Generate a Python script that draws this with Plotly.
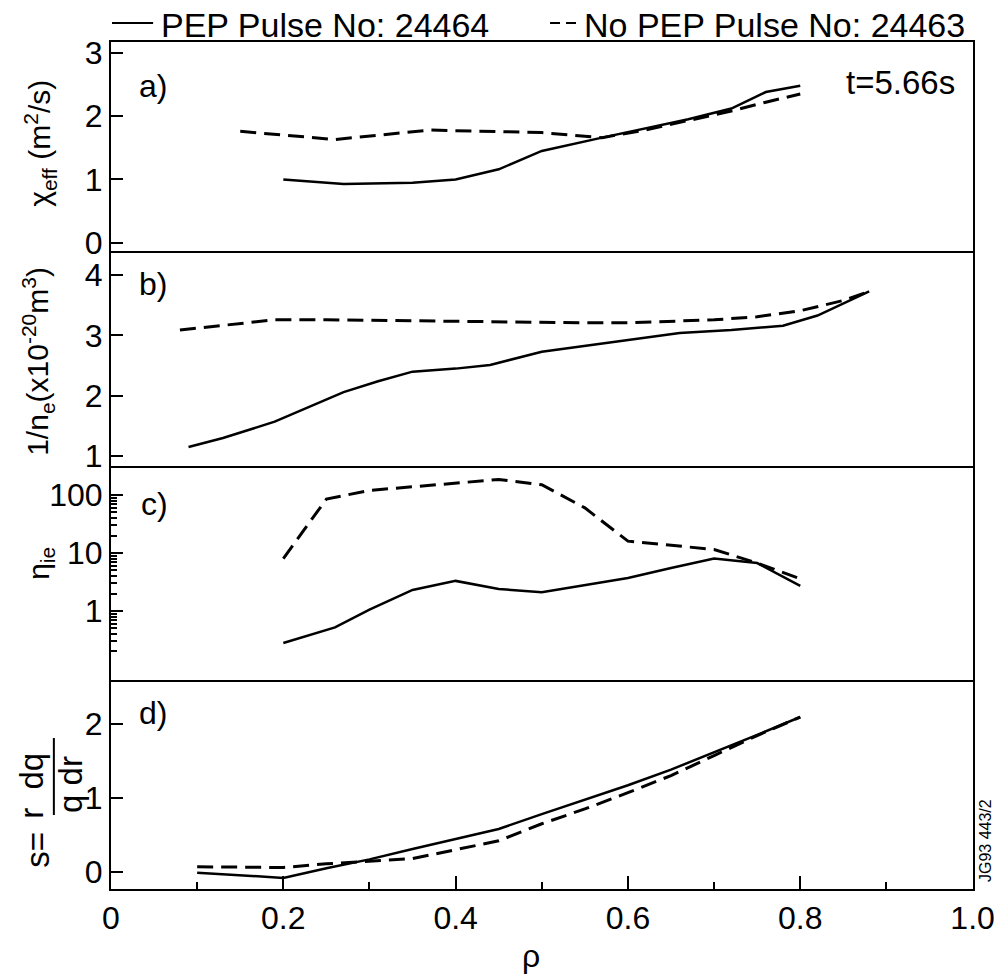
import plotly.graph_objects as go
from plotly.subplots import make_subplots

# ---------------- data ----------------
# panel a) chi_eff (m^2/s)
a_pep_x = [0.20, 0.27, 0.35, 0.40, 0.45, 0.50, 0.57, 0.67, 0.72, 0.76, 0.80]
a_pep_y = [1.00, 0.93, 0.95, 1.00, 1.16, 1.45, 1.66, 1.95, 2.12, 2.38, 2.48]
a_nopep_x = [0.15, 0.26, 0.37, 0.40, 0.45, 0.50, 0.57, 0.62, 0.67, 0.72, 0.76, 0.80]
a_nopep_y = [1.76, 1.63, 1.78, 1.77, 1.75, 1.74, 1.66, 1.78, 1.93, 2.08, 2.22, 2.35]

# panel b) 1/n_e (x10^-20 m^3)
b_pep_x = [0.09, 0.13, 0.19, 0.27, 0.31, 0.35, 0.40, 0.44, 0.50, 0.60, 0.66, 0.72, 0.78, 0.82, 0.88]
b_pep_y = [1.15, 1.30, 1.57, 2.06, 2.24, 2.40, 2.45, 2.51, 2.73, 2.92, 3.04, 3.09, 3.16, 3.33, 3.73]
b_nopep_x = [0.08, 0.13, 0.19, 0.25, 0.35, 0.45, 0.55, 0.60, 0.70, 0.75, 0.80, 0.85, 0.88]
b_nopep_y = [3.09, 3.17, 3.26, 3.26, 3.24, 3.22, 3.21, 3.21, 3.26, 3.31, 3.41, 3.58, 3.73]

# panel c) eta_ie (log)
c_pep_x = [0.20, 0.26, 0.30, 0.35, 0.40, 0.45, 0.50, 0.55, 0.60, 0.65, 0.70, 0.75, 0.80]
c_pep_y = [0.28, 0.52, 1.05, 2.3, 3.3, 2.4, 2.1, 2.8, 3.7, 5.5, 8.0, 6.7, 2.7]
c_nopep_x = [0.20, 0.25, 0.30, 0.35, 0.40, 0.45, 0.50, 0.55, 0.60, 0.65, 0.70, 0.75, 0.80]
c_nopep_y = [8, 85, 120, 140, 160, 185, 150, 60, 16, 13.5, 11.5, 6.7, 3.6]

# panel d) shear s
d_pep_x = [0.10, 0.20, 0.25, 0.30, 0.35, 0.40, 0.45, 0.50, 0.55, 0.60, 0.65, 0.70, 0.75, 0.80]
d_pep_y = [-0.01, -0.08, 0.05, 0.17, 0.31, 0.45, 0.58, 0.78, 0.97, 1.17, 1.38, 1.61, 1.85, 2.09]
d_nopep_x = [0.10, 0.20, 0.25, 0.30, 0.35, 0.40, 0.45, 0.50, 0.55, 0.60, 0.65, 0.70, 0.75, 0.80]
d_nopep_y = [0.07, 0.06, 0.11, 0.15, 0.18, 0.30, 0.42, 0.65, 0.85, 1.07, 1.30, 1.57, 1.84, 2.09]

x_ticks = [0, 0.2, 0.4, 0.6, 0.8, 1.0]
x_ticklabels = ["0", "0.2", "0.4", "0.6", "0.8", "1.0"]
a_ticks = [0, 1, 2, 3]
b_ticks = [1, 2, 3, 4]
c_ticks = [1, 10, 100]
c_ticklabels = ["1", "10", "100"]
c_minor = [0.2, 0.3, 0.4, 0.5, 0.6, 0.7, 0.8, 0.9,
           2, 3, 4, 5, 6, 7, 8, 9,
           20, 30, 40, 50, 60, 70, 80, 90]
d_ticks = [0, 1, 2]

pep_name = "PEP Pulse No: 24464"
nopep_name = "No PEP Pulse No: 24463"

# ---------------- figure ----------------
FONT = "Liberation Sans, Arial, Helvetica, sans-serif"
fig = make_subplots(rows=4, cols=1, shared_xaxes=True, vertical_spacing=0)

panels = [
    (a_pep_x, a_pep_y, a_nopep_x, a_nopep_y),
    (b_pep_x, b_pep_y, b_nopep_x, b_nopep_y),
    (c_pep_x, c_pep_y, c_nopep_x, c_nopep_y),
    (d_pep_x, d_pep_y, d_nopep_x, d_nopep_y),
]
for i, (px, py, nx, ny) in enumerate(panels, start=1):
    fig.add_trace(go.Scatter(x=px, y=py, mode="lines", name=pep_name,
                             line=dict(color="black", width=2.5),
                             showlegend=False), row=i, col=1)
    fig.add_trace(go.Scatter(x=nx, y=ny, mode="lines", name=nopep_name,
                             line=dict(color="black", width=3, dash="16px,8px"),
                             showlegend=False), row=i, col=1)

domains = [[0.7532, 1.0], [0.4994, 0.7532], [0.2468, 0.4994], [0.0, 0.2468]]
yranges = [[-0.13, 3.17], [0.835, 4.40], [-1.19, 2.5], [-0.23, 2.59]]
ytickvals = [a_ticks, b_ticks, c_ticks, d_ticks]
yticktext = [[str(v) for v in a_ticks], [str(v) for v in b_ticks], c_ticklabels,
             [str(v) for v in d_ticks]]

for i in range(4):
    yk = "yaxis" if i == 0 else f"yaxis{i+1}"
    ydict = dict(showline=True, mirror=True, linecolor="black", linewidth=2,
                 showgrid=False, zeroline=False, automargin=False,
                 domain=domains[i], range=yranges[i],
                 tickmode="array", tickvals=ytickvals[i], ticktext=yticktext[i],
                 ticks="inside", ticklen=12, tickwidth=2, tickcolor="black",
                 tickfont=dict(family=FONT, size=32, color="black"))
    if i == 2:
        ydict["type"] = "log"
        ydict["minor"] = dict(tickmode="array", tickvals=c_minor, ticks="inside",
                              ticklen=6, tickwidth=1.5, tickcolor="black")
    fig.layout[yk].update(ydict)

    xk = "xaxis" if i == 0 else f"xaxis{i+1}"
    xdict = dict(showline=True, mirror=(i == 0), linecolor="black", linewidth=2,
                 showgrid=False, zeroline=False, automargin=False,
                 range=[0, 1.0005])
    if i == 3:
        xdict.update(tickmode="array", tickvals=x_ticks, ticktext=x_ticklabels,
                     ticks="inside", ticklen=13, tickwidth=2, tickcolor="black",
                     showticklabels=True, ticklabeloverflow="allow",
                     tickfont=dict(family=FONT, size=32, color="black"),
                     minor=dict(tickmode="linear", tick0=0, dtick=0.1, ticks="inside",
                                ticklen=7, tickwidth=2, tickcolor="black"))
    else:
        xdict.update(ticks="", showticklabels=False)
    fig.layout[xk].update(xdict)

def ann(text, x, y, size=32, xanchor="center", yanchor="middle", angle=0):
    fig.add_annotation(text=text, x=x, y=y, xref="paper", yref="paper",
                       xanchor=xanchor, yanchor=yanchor, showarrow=False,
                       textangle=angle,
                       font=dict(family=FONT, size=size, color="black"))

# pixel -> paper helpers (plot area: x 111..971, y 42..889)
def PX(px):
    return (px - 111) / 860.0
def PY(py):
    return (889 - py) / 847.0

# panel labels
ann("a)", PX(137), PY(86), xanchor="left")
ann("b)", PX(137), PY(284), xanchor="left")
ann("c)", PX(139), PY(504), xanchor="left")
ann("d)", PX(137), PY(713), xanchor="left")
ann("t=5.66s", PX(955), PY(83), size=33, xanchor="right")

# legend (top)
fig.add_shape(type="line", xref="paper", yref="paper",
              x0=PX(112), x1=PX(153), y0=PY(23), y1=PY(23),
              line=dict(color="black", width=2))
ann(pep_name, PX(159), PY(25), size=34, xanchor="left")
fig.add_shape(type="line", xref="paper", yref="paper",
              x0=PX(549), x1=PX(575), y0=PY(23), y1=PY(23),
              line=dict(color="black", width=2, dash="10px,6px"))
ann(nopep_name, PX(581), PY(25), size=34, xanchor="left")

# y-axis titles
ann("χ<sub>eff</sub> (m<sup>2</sup>/s)", PX(40), PY(143), size=30, angle=-90)
ann("1/n<sub>e</sub>(x10<sup>-20</sup>m<sup>3</sup>)", PX(38), PY(361), size=30, angle=-90)
ann("η<sub>ie</sub>", PX(40), PY(563), size=30, angle=-90)
ann("s=", PX(37), PY(850), size=33, angle=-90)
ann("r\u00a0\u00a0dq", PX(31), PY(786), size=33, angle=-90)
ann("q dr", PX(70), PY(784), size=33, angle=-90)
fig.add_shape(type="line", xref="paper", yref="paper",
              x0=PX(54), x1=PX(54), y0=PY(738), y1=PY(815),
              line=dict(color="black", width=2))

# x-axis title
ann("ρ", PX(530), PY(956), size=32)

# reference code
ann("JG93 443/2", PX(983), PY(841), size=16, angle=-90)

fig.update_layout(width=994, height=980, paper_bgcolor="white", plot_bgcolor="white",
                  margin=dict(l=111, r=21, t=42, b=91), showlegend=False,
                  font=dict(family=FONT, color="black"))

fig.write_html("out.html", config={"displayModeBar": False},
               post_script="document.body.style.margin='0';document.body.style.padding='0';")
